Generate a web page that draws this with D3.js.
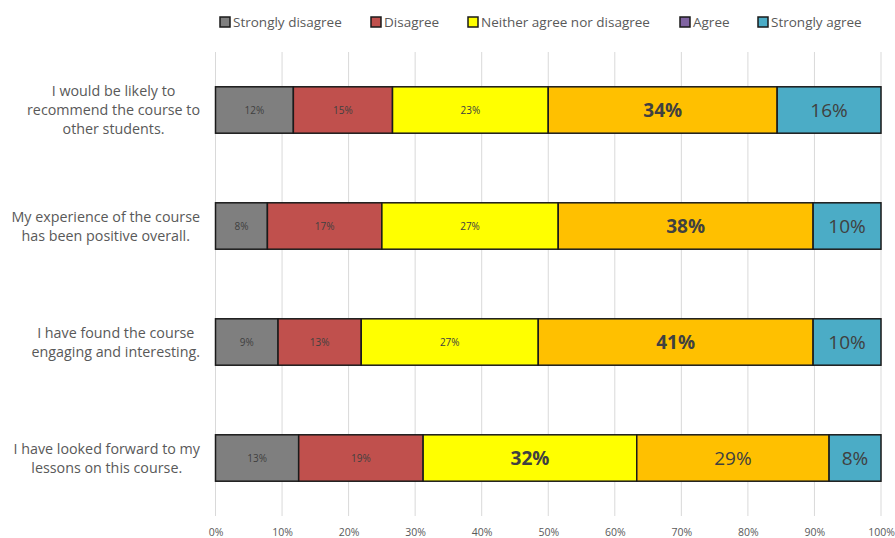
<!DOCTYPE html>
<html>
<head>
<meta charset="utf-8">
<script src="https://cdn.jsdelivr.net/npm/d3@7"></script>
<style>
  body { margin: 0; background: #fff; }
  text { font-family: "Open Sans", "Noto Sans", sans-serif; }
</style>
</head>
<body>
<div id="chart"></div>
<script>
// Survey statements (top to bottom)
const statements = [
  "I would be likely to|recommend the course to|other students.",
  "My experience of the course|has been positive overall.",
  "I have found the course|engaging and interesting.",
  "I have looked forward to my|lessons on this course."
];
const responses = ["Strongly disagree", "Disagree", "Neither agree nor disagree", "Agree", "Strongly agree"];

// percentages for each response, per statement
const stronglyDisagree = [11.7, 7.8, 9.4, 12.5];
const disagree         = [14.9, 17.2, 12.5, 18.7];
const neither          = [23.4, 26.5, 26.6, 32.1];
const agree            = [34.4, 38.3, 41.3, 28.9];
const stronglyAgree    = [15.6, 10.2, 10.2, 7.8];

const xTicks = [0, 10, 20, 30, 40, 50, 60, 70, 80, 90, 100];

const barColors = ["#7f7f7f", "#c0504d", "#ffff00", "#ffc000", "#4bacc6"];
// legend in the original shows Agree as purple
const legendColors = ["#7f7f7f", "#c0504d", "#ffff00", "#8064a2", "#4bacc6"];

const width = 895, height = 538;
const margin = {top: 52, right: 14, bottom: 22, left: 215.5};

const table = statements.map((s, i) => ({
  statement: s,
  values: [stronglyDisagree[i], disagree[i], neither[i], agree[i], stronglyAgree[i]]
}));

const svg = d3.select("#chart")
  .append("svg")
  .attr("width", width)
  .attr("height", height);

const x = d3.scaleLinear().domain([0, 100]).range([margin.left, width - margin.right]);
const y = d3.scaleBand().domain(statements).range([margin.top, height - margin.bottom]).paddingInner(0.6).paddingOuter(0.3);

// gridlines
svg.append("g")
  .selectAll("line")
  .data(xTicks)
  .join("line")
  .attr("x1", d => x(d)).attr("x2", d => x(d))
  .attr("y1", margin.top).attr("y2", height - margin.bottom)
  .attr("stroke", "#d9d9d9")
  .attr("stroke-width", 1);

// x axis labels
const xAxis = svg.append("g")
  .attr("transform", `translate(0,${height - margin.bottom})`)
  .call(d3.axisBottom(x).tickValues(xTicks).tickFormat(d => d + "%").tickSize(0).tickPadding(13));
xAxis.select(".domain").remove();
xAxis.selectAll("text")
  .attr("fill", "#595959")
  .style("font-size", "10.5px")
  .style("font-family", "'Open Sans', sans-serif");

// stacked bars
const rows = svg.append("g")
  .selectAll("g")
  .data(table)
  .join("g");

rows.each(function(row) {
  const g = d3.select(this);
  let start = 0;
  const maxVal = d3.max(row.values);
  row.values.forEach((v, j) => {
    const x0 = x(start), x1 = x(start + v);
    g.append("rect")
      .attr("x", x0)
      .attr("y", y(row.statement))
      .attr("width", x1 - x0)
      .attr("height", y.bandwidth())
      .attr("fill", barColors[j])
      .attr("stroke", "#1a1a1a")
      .attr("stroke-width", 1.5);

    const big = j >= 3 || v === maxVal;
    g.append("text")
      .attr("x", (x0 + x1) / 2)
      .attr("y", y(row.statement) + y.bandwidth() / 2)
      .attr("dy", "0.35em")
      .attr("text-anchor", "middle")
      .attr("fill", "#404040")
      .style("font-size", big ? "19px" : "10px")
      .style("font-weight", v === maxVal ? "bold" : "normal")
      .text(Math.round(v) + "%");
    start += v;
  });
});

// category labels: right-aligned block, lines centred within it
const labels = svg.append("g")
  .selectAll("g")
  .data(statements)
  .join("g");

labels.each(function(s) {
  const g = d3.select(this);
  const lines = s.split("|");
  const lh = 19;
  const cy = y(s) + y.bandwidth() / 2;
  const texts = lines.map((line, k) => g.append("text")
    .attr("y", cy + (k - (lines.length - 1) / 2) * lh)
    .attr("dy", "0.35em")
    .attr("text-anchor", "middle")
    .attr("fill", "#595959")
    .style("font-size", "14.3px")
    .text(line));
  const maxW = d3.max(texts, t => t.node().getComputedTextLength());
  texts.forEach(t => t.attr("x", 200 - maxW / 2));
});

// legend
const legendX = [220, 371, 468, 680, 758];
const legend = svg.append("g")
  .selectAll("g")
  .data(responses)
  .join("g")
  .attr("transform", (d, i) => `translate(${legendX[i]},22)`);

legend.append("rect")
  .attr("x", 0).attr("y", -5)
  .attr("width", 10).attr("height", 10)
  .attr("fill", (d, i) => legendColors[i])
  .attr("stroke", "#1a1a1a")
  .attr("stroke-width", 1.5);

legend.append("text")
  .attr("x", 13)
  .attr("dy", "0.35em")
  .attr("fill", "#595959")
  .style("font-size", "13.5px")
  .text(d => d);
</script>
</body>
</html>
